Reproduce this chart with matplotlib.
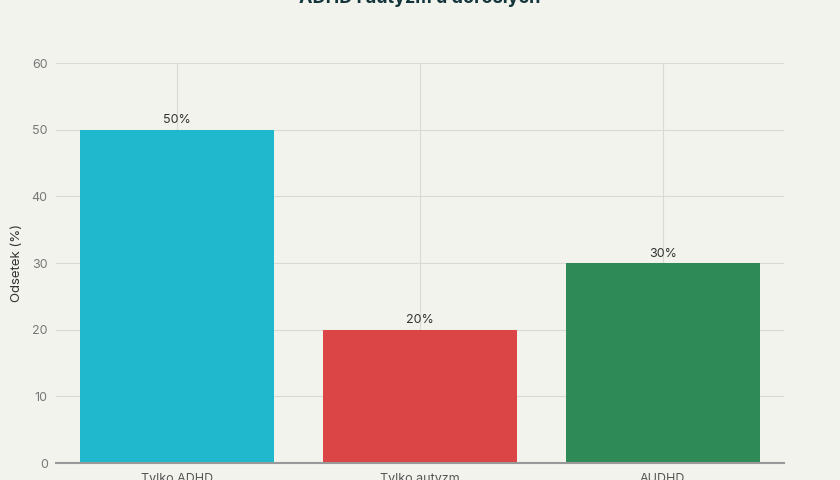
import matplotlib.pyplot as plt

# data
categories = ['Tylko ADHD', 'Tylko autyzm', 'AUDHD']
values = [50, 20, 30]
labels = ['50%', '20%', '30%']
colors = ['#1FB8CD', '#DB4545', '#2E8B57']
title = 'ADHD i autyzm u dorosłych'
ylabel = 'Odsetek (%)'

plt.rcParams['font.family'] = ['Inter', 'DejaVu Sans']
bg = '#F3F3EE'

fig = plt.figure(figsize=(8.4, 4.8), dpi=100, facecolor=bg)
ax = fig.add_axes([56 / 840, 1 - 463 / 480, 728 / 840, 400 / 480], facecolor=bg)

x = range(len(categories))
ax.bar(x, values, width=0.8, color=colors, zorder=3)
for xi, v, lab in zip(x, values, labels):
    ax.text(xi, v + 0.5, lab, ha='center', va='bottom', fontsize=9, color='#333333', zorder=4)

ax.set_xlim(-0.5, 2.5)
ax.set_ylim(0, 60)
ax.set_yticks(range(0, 61, 10))
ax.set_xticks(list(x))
ax.set_xticklabels(categories)
ax.grid(True, color='#DADAD5', linewidth=0.8, zorder=0)

for s in ['top', 'right', 'left']:
    ax.spines[s].set_visible(False)
ax.spines['bottom'].set_color('#999999')
ax.spines['bottom'].set_linewidth(1.5)
ax.spines['bottom'].set_zorder(5)

ax.tick_params(axis='y', length=0, pad=6, labelsize=9, labelcolor='#777777')
ax.tick_params(axis='x', length=0, pad=7, labelsize=9, labelcolor='#555555')
ax.set_ylabel(ylabel, fontsize=9.5, color='#333333', labelpad=6)

fig.text(0.5, 0.993, title, ha='center', va='baseline', fontsize=13, fontweight='bold', color='#13343B')

fig.savefig('out.png', dpi=100, facecolor=bg)
